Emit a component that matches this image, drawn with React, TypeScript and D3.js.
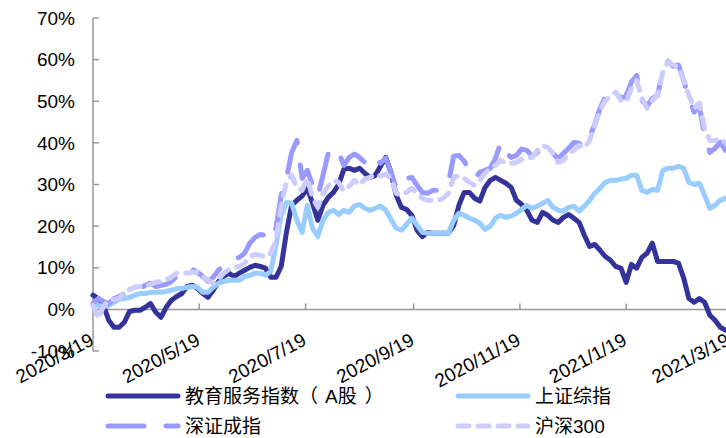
import React from "react";
import * as d3 from "d3";

const tickLabels = ["2020/3/19", "2020/5/19", "2020/7/19", "2020/9/19", "2020/11/19", "2021/1/19", "2021/3/19"];
const yTicks = [-10, 0, 10, 20, 30, 40, 50, 60, 70];
const startDate = "2020/3/19";
const stepDays = 3;

const eduValues = [
  3.4, 2.6, 1.0, -2.6, -4.3, -4.3, -3.1, -0.5, -0.2, -0.2,
  0.5, 1.4, -0.7, -1.9, 0.5, 2.2, 3.1, 3.8, 5.5, 5.8,
  5.0, 3.8, 2.9, 4.6, 6.7, 7.9, 8.7, 7.9, 8.7, 9.4,
  10.1, 10.6, 10.3, 9.9, 7.7, 7.7, 10.3, 18.5, 25.0, 26.2,
  27.2, 29.1, 25.5, 21.4, 25.0, 26.9, 28.1, 30.0, 33.7, 33.9,
  33.4, 33.9, 32.7, 31.7, 32.2, 34.4, 36.5, 32.9, 27.4, 24.5,
  24.0, 22.6, 19.0, 17.5, 18.5, 18.3, 18.3, 18.3, 18.3, 20.2,
  25.0, 28.1, 28.1, 26.7, 26.0, 29.3, 31.0, 31.7, 31.0, 30.3,
  29.3, 26.2, 25.2, 23.8, 21.4, 20.9, 23.3, 22.6, 21.4, 20.9,
  22.1, 22.8, 21.9, 20.9, 17.8, 15.1, 15.6, 14.2, 12.7, 11.8,
  10.3, 9.9, 6.5, 10.8, 9.9, 12.5, 13.5, 15.9, 11.5, 11.5,
  11.5, 11.5, 11.1, 7.5, 2.6, 1.7, 2.6, 1.7, -1.4, -2.6,
  -4.3, -5.0, -5.5,
];

const shValues = [
  1.4, 1.0, 0.7, 1.0, 1.7, 2.4, 2.6, 2.9, 3.4, 3.8,
  3.8, 4.1, 4.1, 4.1, 4.3, 4.6, 5.0, 5.0, 5.3, 5.5,
  5.3, 4.1, 4.1, 5.3, 6.3, 6.7, 7.0, 7.0, 7.0, 7.9,
  8.2, 8.7, 8.7, 8.2, 9.1, 15.4, 22.6, 25.7, 25.5, 21.4,
  18.5, 25.0, 19.5, 17.5, 21.4, 23.3, 23.8, 22.8, 23.8, 23.3,
  24.8, 25.2, 24.3, 23.8, 24.3, 24.8, 23.8, 21.6, 19.5, 19.0,
  20.4, 21.9, 20.2, 18.5, 18.3, 18.3, 18.3, 18.3, 18.3, 21.4,
  23.1, 22.6, 21.9, 21.4, 20.7, 19.2, 20.0, 21.9, 22.6, 22.1,
  22.4, 23.1, 24.0, 25.0, 24.3, 24.8, 25.5, 26.2, 24.5, 23.8,
  23.6, 24.5, 24.8, 23.6, 24.8, 26.2, 27.9, 29.1, 30.5, 31.0,
  31.0, 31.3, 31.5, 32.2, 32.2, 28.6, 28.1, 28.8, 28.6, 33.4,
  33.9, 33.9, 34.4, 33.9, 30.5, 30.0, 30.3, 27.4, 24.3, 25.0,
  26.2, 26.7, 26.9,
];

const szValues = [
  1.4, 2.6, 1.9, 1.4, 2.6, 3.1, 3.8, 4.1, 4.6, 5.0,
  5.8, 6.3, 5.5, 5.8, 6.0, 6.7, 7.9, 8.9, 9.9, 9.6,
  8.9, 7.9, 6.7, 7.7, 9.4, 10.6, 11.5, 12.0, 12.5, 13.5,
  15.9, 17.3, 18.0, 17.8, 16.6, 19.5, 27.4, 31.3, 37.7, 40.6,
  31.5, 33.4, 29.8, 27.2, 32.2, 37.5, 38.9, 37.7, 34.6, 36.5,
  37.3, 36.5, 35.3, 37.0, 36.3, 35.1, 36.3, 32.9, 29.3, 29.1,
  31.5, 31.7, 29.8, 28.1, 27.9, 28.6, 28.6, 29.3, 30.5, 36.8,
  37.0, 35.6, 33.4, 31.5, 32.9, 33.4, 33.9, 36.3, 40.1, 37.7,
  36.5, 37.0, 38.5, 38.2, 36.8, 37.7, 38.7, 39.2, 37.5, 36.1,
  37.5, 38.7, 40.1, 39.9, 38.9, 41.3, 44.5, 48.3, 51.0, 51.9,
  52.6, 50.5, 51.4, 54.6, 56.2, 50.2, 48.8, 50.7, 51.4, 57.5,
  59.6, 58.4, 58.7, 55.0, 50.7, 47.4, 48.8, 41.8, 37.7, 38.7,
  40.1, 38.2, 38.7,
];

const hsValues = [
  1.0, -2.2, 0.7, 2.2, 2.4, 2.6, 4.1, 4.8, 5.3, 5.5,
  5.8, 6.0, 6.5, 6.7, 7.2, 7.7, 8.7, 8.9, 8.7, 8.9,
  8.9, 7.9, 7.0, 6.3, 7.2, 8.7, 9.6, 10.1, 10.3, 11.1,
  12.7, 13.2, 13.0, 12.5, 13.5, 16.6, 25.0, 30.5, 32.2, 29.3,
  28.6, 31.5, 26.9, 24.5, 27.9, 29.6, 31.0, 30.5, 28.4, 29.6,
  31.0, 29.8, 31.3, 31.7, 32.5, 32.0, 32.5, 31.5, 27.9, 27.4,
  28.1, 29.1, 27.9, 26.7, 26.2, 26.2, 26.2, 26.7, 27.9, 31.7,
  32.2, 31.5, 30.5, 29.8, 31.0, 32.7, 33.9, 34.6, 35.8, 35.1,
  35.1, 35.3, 36.1, 36.5, 36.5, 38.2, 39.4, 38.9, 37.5, 35.3,
  35.8, 37.5, 38.2, 39.4, 38.7, 40.6, 44.2, 47.8, 50.2, 51.2,
  52.2, 50.2, 49.8, 53.1, 55.0, 50.7, 48.3, 50.2, 51.4, 57.0,
  59.4, 58.7, 58.2, 55.0, 51.4, 48.3, 49.5, 43.5, 40.6, 40.6,
  41.1, 39.9, 40.1,
];

const seriesNames = ["教育服务指数（A股）", "上证综指", "深证成指", "沪深300"];
const seriesColors = ["#333399", "#99CCFF", "#9999FF", "#CCCCFF"];
const seriesDash = [null, null, "36 22", "11 9"];

const W = 726;
const H = 438;
const FONT = "'Liberation Sans', Arial, 'Noto Sans CJK SC', sans-serif";

function LegendLabel({ name, x, y }: { name: string; x: number; y: number }) {
  // widen the full-width brackets slightly, as in the reference font
  const m = name.match(/^(.*（)(.*)(）)$/);
  if (!m) {
    return (
      <text x={x} y={y} dy="0.36em" fontSize={19} fill="#000">
        {name}
      </text>
    );
  }
  return (
    <text x={x} y={y} dy="0.36em" fontSize={19} fill="#000">
      {m[1]}
      <tspan dx={7}>{m[2]}</tspan>
      <tspan dx={8}>{m[3]}</tspan>
    </text>
  );
}

export default function App() {
  const parse = d3.timeParse("%Y/%m/%d");
  const start = parse(startDate) as Date;
  const tickDates = tickLabels.map((t) => parse(t) as Date);

  const x = d3.scaleTime().domain([tickDates[0], tickDates[tickDates.length - 1]]).range([93, 729]);
  const y = d3.scaleLinear().domain([-10, 70]).range([351, 18]);

  const allSeries = [eduValues, shValues, szValues, hsValues];
  const line = d3
    .line<[Date, number]>()
    .x((d) => x(d[0]))
    .y((d) => y(d[1]));

  const toPoints = (vals: number[]) =>
    vals.map((v, i) => [d3.timeDay.offset(start, i * stepDays), v] as [Date, number]);

  const y0 = y(0);
  const axisColor = "#999999";

  const legendItems = [
    { x: 108, y: 396 },
    { x: 458, y: 396 },
    { x: 108, y: 426 },
    { x: 458, y: 426 },
  ];

  return (
    <svg
      width={W}
      height={H}
      style={{ position: "absolute", left: 0, top: 0, background: "#fff" }}
      fontFamily={FONT}
    >
      <rect x={0} y={0} width={W} height={H} fill="#fff" />
      {/* Y axis */}
      <line x1={93} x2={93} y1={y(70)} y2={y(-10)} stroke={axisColor} strokeWidth={1.5} />
      {yTicks.map((t) => (
        <g key={t}>
          <line x1={93} x2={99} y1={y(t)} y2={y(t)} stroke={axisColor} strokeWidth={1.5} />
          <text x={75} y={y(t)} dy="0.35em" textAnchor="end" fontSize={19} fill="#000">
            {t}%
          </text>
        </g>
      ))}
      {/* X axis */}
      <line x1={93} x2={740} y1={y0} y2={y0} stroke={axisColor} strokeWidth={1.5} />
      {tickDates.map((d, i) => (
        <line key={i} x1={x(d)} x2={x(d)} y1={y0} y2={y0 - 6} stroke={axisColor} strokeWidth={1.5} />
      ))}
      {/* Series */}
      {allSeries.map((vals, i) => (
        <path
          key={i}
          d={line(toPoints(vals)) || ""}
          fill="none"
          stroke={seriesColors[i]}
          strokeWidth={5}
          strokeLinejoin="round"
          strokeLinecap="round"
          strokeDasharray={seriesDash[i] || undefined}
        />
      ))}
      {/* X labels */}
      {tickDates.map((d, i) => (
        <text
          key={i}
          transform={`translate(${x(d) + 2},344) rotate(-28)`}
          textAnchor="end"
          fontSize={19}
          fill="#000"
        >
          {tickLabels[i]}
        </text>
      ))}
      {/* Legend */}
      {legendItems.map((p, i) => (
        <g key={i}>
          <line
            x1={p.x}
            x2={p.x + 70}
            y1={p.y}
            y2={p.y}
            stroke={seriesColors[i]}
            strokeWidth={5}
            strokeLinecap="round"
            strokeDasharray={seriesDash[i] || undefined}
          />
          <LegendLabel name={seriesNames[i]} x={p.x + 77} y={p.y} />
        </g>
      ))}
    </svg>
  );
}
